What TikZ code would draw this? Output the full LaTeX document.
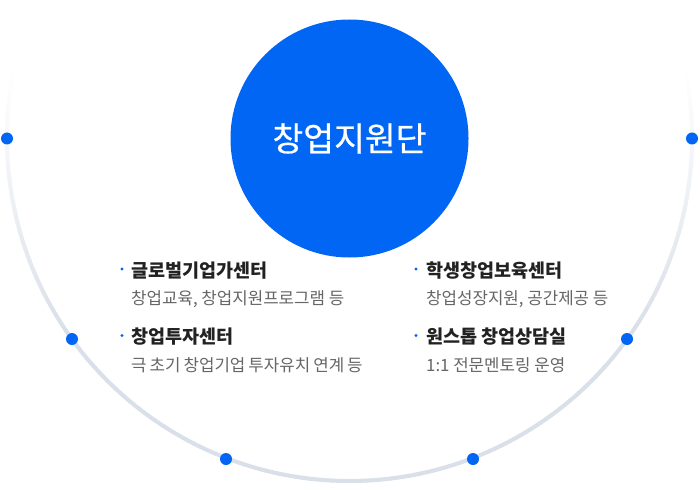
\documentclass[tikz,border=0pt]{standalone}
\usepackage{fontspec}
\setmainfont{Noto Sans CJK KR}
\newfontfamily\corefont[FakeBold=0.6]{Noto Sans CJK KR}
\definecolor{mainblue}{RGB}{0,102,243}
\definecolor{arcgray}{RGB}{218,224,233}
\definecolor{titlecol}{RGB}{34,34,34}
\definecolor{subcol}{RGB}{102,102,102}
\newcommand{\tightspace}{\spaceskip=0.18em\relax}
\tikzset{
  dotnode/.style={circle,fill=mainblue,inner sep=0pt,minimum size=12pt},
  bulletnode/.style={circle,fill=mainblue,inner sep=0pt,minimum size=3.2pt},
  titlenode/.style={anchor=west,inner sep=0pt,text=titlecol,font=\fontsize{18.5}{22}\selectfont\bfseries},
  subnode/.style={anchor=west,inner sep=0pt,text=subcol,font=\fontsize{16.8}{20}\selectfont},
}
\begin{document}
\begin{tikzpicture}[x=1pt,y=-1pt]
\useasboundingbox[fill=white] (0,0) rectangle (700,489);
% outer arc with fading ends
\foreach \a in {-12,...,191}{
  \pgfmathsetmacro{\f}{100*min(1,max(0,min((191-\a)/45,(\a+12)/45)))}
  \draw[line width=4pt,color=arcgray!\f!white,line cap=round]
    ({349.5+342.5*cos(\a)},{138.5+342.5*sin(\a)}) --
    ({349.5+342.5*cos(\a+1)},{138.5+342.5*sin(\a+1)});
}
% dots on arc
\node[dotnode] (d1) at (7,138.5) {};
\node[dotnode] (d2) at (72,339) {};
\node[dotnode] (d3) at (226,459) {};
\node[dotnode] (d4) at (473,459) {};
\node[dotnode] (d5) at (627,339) {};
\node[dotnode] (d6) at (692,138.5) {};
% core circle
\node[circle,fill=mainblue,inner sep=0pt,minimum size=238pt,text=white,
      font=\corefont\fontsize{33.5}{38}\selectfont] (core) at (349.5,138.5) {창업지원단};
% left column
\node[bulletnode] (b1) at (122,269) {};
\node[titlenode] (t1) at (131,270.5) {글로벌기업가센터};
\node[subnode] (s1) at (131,299) {창업교육, 창업지원프로그램 등};
\node[bulletnode] (b2) at (122,335.5) {};
\node[titlenode] (t2) at (131,337) {창업투자센터};
\node[subnode] (s2) at (131,365.5) {\tightspace 극 초기 창업기업 투자유치 연계 등};
% right column
\node[bulletnode] (b3) at (416,269) {};
\node[titlenode] (t3) at (426,270.5) {학생창업보육센터};
\node[subnode] (s3) at (426,299) {창업성장지원, 공간제공 등};
\node[bulletnode] (b4) at (416,335.5) {};
\node[titlenode] (t4) at (426,337) {원스톱 창업상담실};
\node[subnode] (s4) at (426,365.5) {1:1 전문멘토링 운영};
\end{tikzpicture}
\end{document}
